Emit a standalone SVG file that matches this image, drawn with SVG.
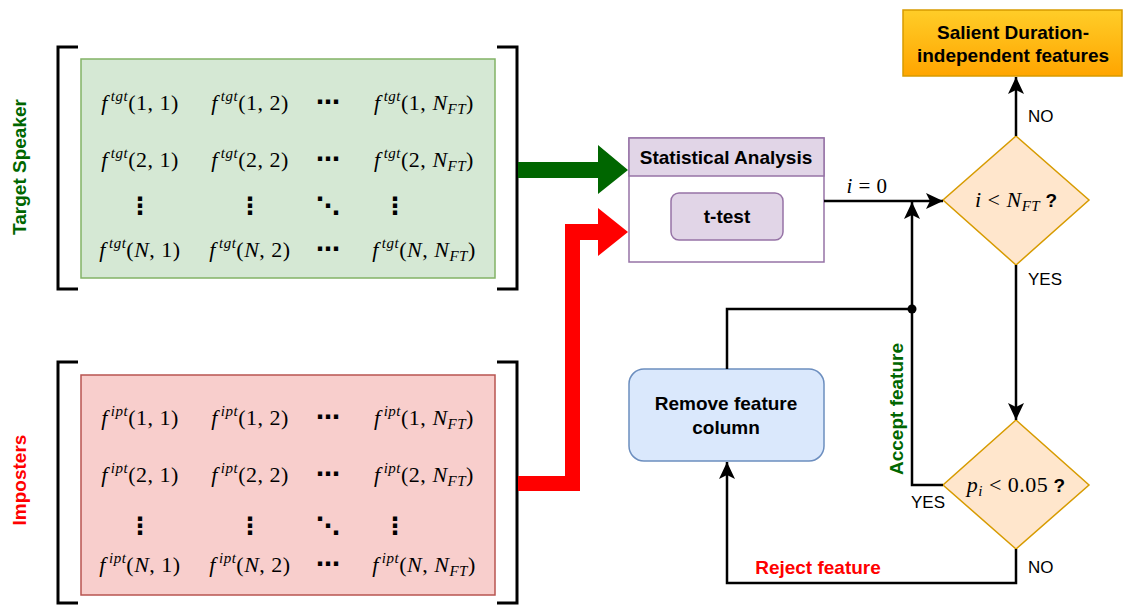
<svg xmlns="http://www.w3.org/2000/svg" width="1124" height="605" viewBox="0 0 1124 605">
<defs>
<style>
.m{font-family:"Liberation Serif","Times New Roman",serif;font-size:22px;text-anchor:middle;fill:#000;letter-spacing:0.5px}
.it{font-style:italic}
.sup{font-style:italic;font-size:15px}
.sub{font-style:italic;font-size:15px}
.q{font-family:"Liberation Sans",Arial,sans-serif;font-weight:bold;font-size:19px;letter-spacing:0}
.dots{font-family:"DejaVu Sans",sans-serif;font-size:24px;font-weight:bold;text-anchor:middle;fill:#000}
.lbl{font-family:"Liberation Sans",Arial,sans-serif;font-size:19px;font-weight:bold;text-anchor:middle;fill:#000}
.yn{font-family:"Liberation Sans",Arial,sans-serif;font-size:17px;fill:#000}
.br{fill:none;stroke:#000;stroke-width:3}
.ln{fill:none;stroke:#000;stroke-width:2.5}
</style>
<marker id="arr" markerUnits="userSpaceOnUse" markerWidth="18" markerHeight="18" refX="17" refY="8" orient="auto" viewBox="0 0 18 16">
<path d="M0,0 L17,8 L0,16 L4,8 z" fill="#000"/>
</marker>
<linearGradient id="og" x1="0" y1="0" x2="0" y2="1">
<stop offset="0" stop-color="#ffcd28"/>
<stop offset="1" stop-color="#ffa500"/>
</linearGradient>
</defs>
<rect width="1124" height="605" fill="#fff"/>

<g id="target-matrix">
<text x="20" y="167" transform="rotate(-90 20 167)" class="lbl" style="fill:#006600" dy="6">Target Speaker</text>
<path class="br" d="M78,47 H58 V289 H78"/>
<path class="br" d="M497,47 H517 V289 H497"/>
<rect x="81" y="59" width="414" height="219" fill="#d5e8d4" stroke="#82b366" stroke-width="1.5"/>
<text class="m" x="140" y="110"><tspan class="it">f</tspan><tspan class="sup" dx="3" dy="-9">tgt</tspan><tspan dy="9">(1, 1)</tspan></text>
<text class="m" x="250" y="110"><tspan class="it">f</tspan><tspan class="sup" dx="3" dy="-9">tgt</tspan><tspan dy="9">(1, 2)</tspan></text>
<text class="dots" x="328" y="110">⋯</text>
<text class="m" x="424" y="110"><tspan class="it">f</tspan><tspan class="sup" dx="3" dy="-9">tgt</tspan><tspan dy="9">(1, </tspan><tspan class="it">N</tspan><tspan class="sub" dy="4">FT</tspan><tspan dy="-4">)</tspan></text>
<text class="m" x="140" y="167"><tspan class="it">f</tspan><tspan class="sup" dx="3" dy="-9">tgt</tspan><tspan dy="9">(2, 1)</tspan></text>
<text class="m" x="250" y="167"><tspan class="it">f</tspan><tspan class="sup" dx="3" dy="-9">tgt</tspan><tspan dy="9">(2, 2)</tspan></text>
<text class="dots" x="328" y="167">⋯</text>
<text class="m" x="424" y="167"><tspan class="it">f</tspan><tspan class="sup" dx="3" dy="-9">tgt</tspan><tspan dy="9">(2, </tspan><tspan class="it">N</tspan><tspan class="sub" dy="4">FT</tspan><tspan dy="-4">)</tspan></text>
<text class="dots" x="140" y="214">⋮</text>
<text class="dots" x="250" y="214">⋮</text>
<text class="dots" x="328" y="214">⋱</text>
<text class="dots" x="395" y="214">⋮</text>
<text class="m" x="140" y="257"><tspan class="it">f</tspan><tspan class="sup" dx="3" dy="-9">tgt</tspan><tspan dy="9">(</tspan><tspan class="it">N</tspan><tspan>, 1)</tspan></text>
<text class="m" x="250" y="257"><tspan class="it">f</tspan><tspan class="sup" dx="3" dy="-9">tgt</tspan><tspan dy="9">(</tspan><tspan class="it">N</tspan><tspan>, 2)</tspan></text>
<text class="dots" x="328" y="257">⋯</text>
<text class="m" x="424" y="257"><tspan class="it">f</tspan><tspan class="sup" dx="3" dy="-9">tgt</tspan><tspan dy="9">(</tspan><tspan class="it">N</tspan><tspan>, </tspan><tspan class="it">N</tspan><tspan class="sub" dy="4">FT</tspan><tspan dy="-4">)</tspan></text>
</g>

<g id="imposters-matrix">
<text x="20" y="480" transform="rotate(-90 20 480)" class="lbl" style="fill:#ff0000" dy="6">Imposters</text>
<path class="br" d="M78,362 H58 V603 H78"/>
<path class="br" d="M497,362 H517 V603 H497"/>
<rect x="81" y="375" width="414" height="220" fill="#f8cecc" stroke="#b85450" stroke-width="1.5"/>
<text class="m" x="140" y="425"><tspan class="it">f</tspan><tspan class="sup" dx="3" dy="-9">ipt</tspan><tspan dy="9">(1, 1)</tspan></text>
<text class="m" x="250" y="425"><tspan class="it">f</tspan><tspan class="sup" dx="3" dy="-9">ipt</tspan><tspan dy="9">(1, 2)</tspan></text>
<text class="dots" x="328" y="425">⋯</text>
<text class="m" x="424" y="425"><tspan class="it">f</tspan><tspan class="sup" dx="3" dy="-9">ipt</tspan><tspan dy="9">(1, </tspan><tspan class="it">N</tspan><tspan class="sub" dy="4">FT</tspan><tspan dy="-4">)</tspan></text>
<text class="m" x="140" y="482"><tspan class="it">f</tspan><tspan class="sup" dx="3" dy="-9">ipt</tspan><tspan dy="9">(2, 1)</tspan></text>
<text class="m" x="250" y="482"><tspan class="it">f</tspan><tspan class="sup" dx="3" dy="-9">ipt</tspan><tspan dy="9">(2, 2)</tspan></text>
<text class="dots" x="328" y="482">⋯</text>
<text class="m" x="424" y="482"><tspan class="it">f</tspan><tspan class="sup" dx="3" dy="-9">ipt</tspan><tspan dy="9">(2, </tspan><tspan class="it">N</tspan><tspan class="sub" dy="4">FT</tspan><tspan dy="-4">)</tspan></text>
<text class="dots" x="140" y="534">⋮</text>
<text class="dots" x="250" y="534">⋮</text>
<text class="dots" x="328" y="534">⋱</text>
<text class="dots" x="395" y="534">⋮</text>
<text class="m" x="140" y="572"><tspan class="it">f</tspan><tspan class="sup" dx="3" dy="-9">ipt</tspan><tspan dy="9">(</tspan><tspan class="it">N</tspan><tspan>, 1)</tspan></text>
<text class="m" x="250" y="572"><tspan class="it">f</tspan><tspan class="sup" dx="3" dy="-9">ipt</tspan><tspan dy="9">(</tspan><tspan class="it">N</tspan><tspan>, 2)</tspan></text>
<text class="dots" x="328" y="572">⋯</text>
<text class="m" x="424" y="572"><tspan class="it">f</tspan><tspan class="sup" dx="3" dy="-9">ipt</tspan><tspan dy="9">(</tspan><tspan class="it">N</tspan><tspan>, </tspan><tspan class="it">N</tspan><tspan class="sub" dy="4">FT</tspan><tspan dy="-4">)</tspan></text>
</g>

<g id="stat-analysis">
<rect x="629" y="138" width="195" height="124" fill="#fff" stroke="#9673a6" stroke-width="1.5"/>
<rect x="629" y="138" width="195" height="38" fill="#e1d5e7" stroke="#9673a6" stroke-width="1.5"/>
<text class="lbl" x="726" y="164">Statistical Analysis</text>
<rect x="671" y="193" width="112" height="47" rx="8" fill="#e1d5e7" stroke="#9673a6" stroke-width="1.5"/>
<text class="lbl" x="727" y="223">t-test</text>
</g>

<g id="salient">
<rect x="903" y="10" width="219" height="66" fill="url(#og)" stroke="#d79b00" stroke-width="1.5"/>
<text class="lbl" x="1013" y="39">Salient Duration-</text>
<text class="lbl" x="1013" y="62">independent features</text>
</g>

<g id="cond-i">
<polygon points="1016,136 1089,200 1016,265 943,200" fill="#ffe6cc" stroke="#d79b00" stroke-width="1.5"/>
<text class="m" x="1016" y="207"><tspan class="it">i</tspan><tspan> &lt; </tspan><tspan class="it">N</tspan><tspan class="sub" dy="4">FT</tspan><tspan class="q" dy="-4"> ?</tspan></text>
</g>

<g id="cond-p">
<polygon points="1016,420 1089,485 1016,549 943,485" fill="#ffe6cc" stroke="#d79b00" stroke-width="1.5"/>
<text class="m" x="1016" y="492"><tspan class="it">p</tspan><tspan class="sub" dy="4">i</tspan><tspan dy="-4"> &lt; 0.05</tspan><tspan class="q"> ?</tspan></text>
</g>

<g id="remove">
<rect x="629" y="369" width="195" height="92" rx="15" fill="#dae8fc" stroke="#6c8ebf" stroke-width="1.5"/>
<text class="lbl" x="726" y="410">Remove feature</text>
<text class="lbl" x="726" y="434">column</text>
</g>

<g id="connectors">
<polygon points="518,162 598,162 598,145 628,170 598,194 598,178 518,178" fill="#006600"/>
<polygon points="518,476 565,476 565,224 598,224 598,208 628,232 598,256 598,240 580,240 580,491 518,491" fill="#ff0000"/>
<path class="ln" d="M824,201 H943" marker-end="url(#arr)"/>
<text class="m" x="867" y="193" style="font-size:21px"><tspan class="it">i</tspan><tspan> = 0</tspan></text>
<path class="ln" d="M1016,136 V77" marker-end="url(#arr)"/>
<text class="yn" x="1028" y="122">NO</text>
<path class="ln" d="M1016,265 V420" marker-end="url(#arr)"/>
<text class="yn" x="1028" y="285">YES</text>
<path class="ln" d="M943,485 H912 V202" marker-end="url(#arr)"/>
<text class="yn" x="911" y="508">YES</text>
<path class="ln" d="M912,309 H727 V369"/>
<circle cx="912" cy="309" r="4.5" fill="#000"/>
<path class="ln" d="M1016,549 V583 H727 V462" marker-end="url(#arr)"/>
<text class="yn" x="1028" y="573">NO</text>
<text class="lbl" x="818" y="574" style="fill:#ff0000">Reject feature</text>
<text class="lbl" x="896" y="409" transform="rotate(-90 896 409)" dy="7" style="fill:#006600">Accept feature</text>
</g>
</svg>
